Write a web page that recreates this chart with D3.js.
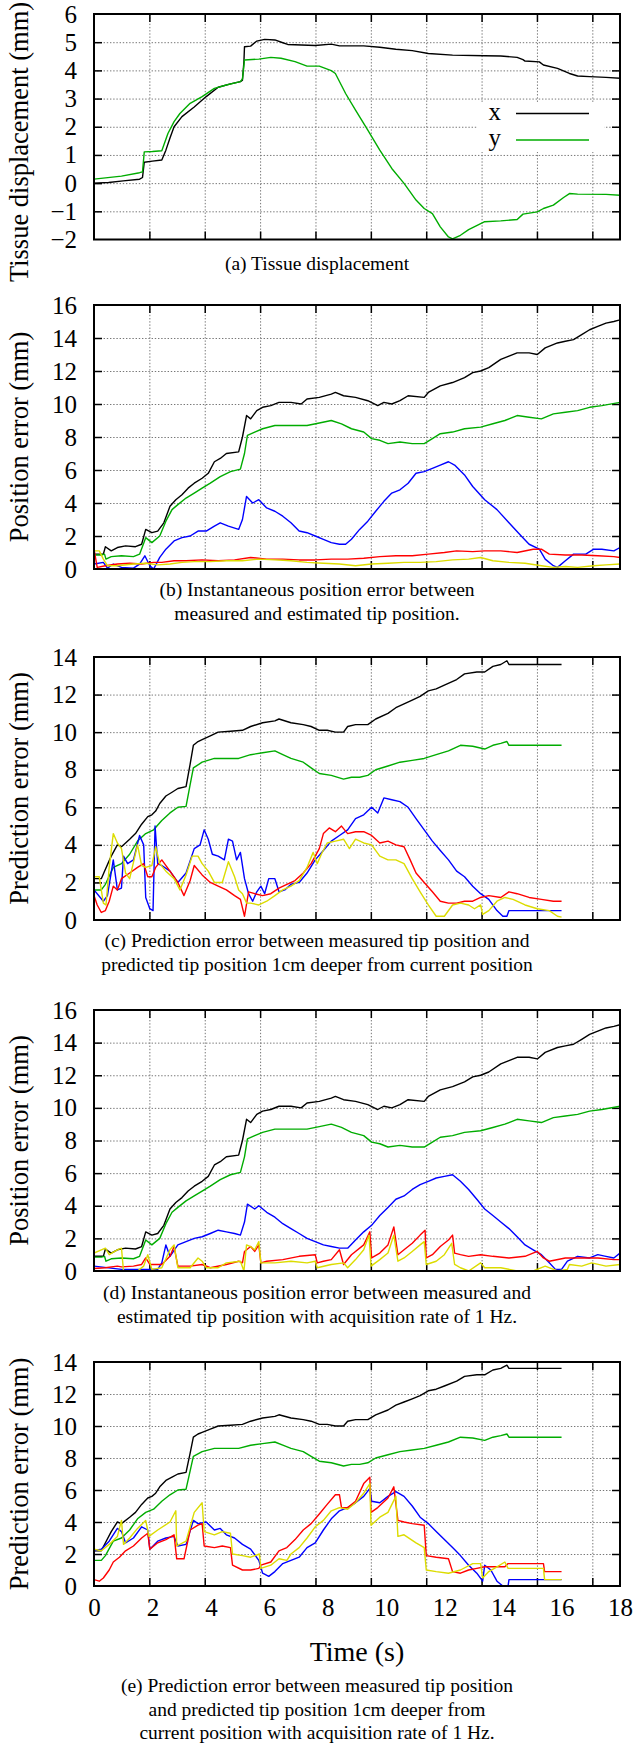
<!DOCTYPE html>
<html lang="en">
<head>
<meta charset="UTF-8">
<title>Tissue displacement and tip position errors</title>
<script src="https://d3js.org/d3.v7.min.js"></script>
<style>
  body, html { margin: 0; padding: 0; background: #fff; }
  svg, svg text { font-family: "Liberation Serif", "Times New Roman", serif; }
  .grid line { stroke: #777; stroke-width: 1; stroke-dasharray: 1.4 1.8; }
  .grid path, .marks path, .labels path { display: none; }
  .marks line { stroke: #000; stroke-width: 1.5; }
  .series { fill: none; stroke-width: 1.4; stroke-linejoin: round; }
</style>
</head>
<body>
<svg id="fig" width="634" height="1746"></svg>
<script>
// ---- data: [time (s), value (mm)] ----
const timeTicks = [0, 2, 4, 6, 8, 10, 12, 14, 16, 18];
const dispTicks = [-2, -1, 0, 1, 2, 3, 4, 5, 6];
const posTicks = [0, 2, 4, 6, 8, 10, 12, 14, 16];
const predTicks = [0, 2, 4, 6, 8, 10, 12, 14];

// (a) tissue displacement
const dispX = [[0,0.0],[0.5,0.02],[1.0,0.08],[1.56,0.14],[1.66,0.2],[1.72,0.74],[2.0,0.78],[2.32,0.82],[2.46,1.17],[2.6,1.6],[2.74,2.0],[3.01,2.36],[3.43,2.7],[3.84,3.07],[4.25,3.4],[4.67,3.52],[5.01,3.6],[5.08,3.65],[5.13,4.3],[5.15,4.84],[5.36,4.86],[5.57,5.04],[5.84,5.1],[6.19,5.08],[6.46,4.98],[6.63,4.92],[7.57,4.88],[8.12,4.93],[8.4,4.87],[9.23,4.87],[9.78,4.82],[10.33,4.75],[10.89,4.7],[11.44,4.6],[12.27,4.54],[13.37,4.52],[13.92,4.51],[14.48,4.46],[14.68,4.38],[14.75,4.33],[15.24,4.3],[15.38,4.19],[15.86,4.07],[16.27,3.89],[16.55,3.8],[16.96,3.78],[17.52,3.75],[18,3.72]];
const dispY = [[0,0.14],[0.94,0.25],[1.56,0.37],[1.66,0.4],[1.72,1.11],[2.0,1.12],[2.32,1.15],[2.53,1.76],[2.74,2.18],[2.94,2.47],[3.29,2.83],[3.7,3.07],[4.12,3.36],[4.53,3.48],[5.01,3.6],[5.08,3.7],[5.15,4.37],[5.64,4.4],[6.05,4.46],[6.4,4.43],[6.88,4.31],[7.29,4.15],[7.71,4.15],[8.12,3.99],[8.26,3.89],[8.61,3.18],[8.95,2.59],[9.37,1.88],[9.78,1.17],[10.19,0.52],[10.61,-0.01],[11.02,-0.6],[11.3,-0.9],[11.58,-1.08],[11.85,-1.55],[12.13,-1.91],[12.27,-1.98],[12.54,-1.85],[12.82,-1.65],[13.37,-1.37],[13.92,-1.34],[14.48,-1.29],[14.68,-1.1],[15.17,-1.02],[15.38,-0.9],[15.72,-0.78],[16.07,-0.51],[16.27,-0.37],[16.55,-0.39],[17.52,-0.4],[18,-0.43]];

// (b) and (d) share the black and green curves
const posBlack = [[0,0.9],[0.32,0.9],[0.39,1.35],[0.59,1.1],[0.8,1.3],[1.08,1.4],[1.42,1.35],[1.63,1.5],[1.77,2.4],[1.98,2.2],[2.18,2.3],[2.39,2.8],[2.6,3.8],[2.8,4.2],[3.01,4.5],[3.22,4.9],[3.43,5.2],[3.7,5.5],[3.91,5.8],[4.12,6.5],[4.32,6.7],[4.53,7.0],[4.95,7.1],[5.08,8.0],[5.22,9.3],[5.36,9.1],[5.57,9.6],[5.77,9.8],[6.05,9.9],[6.33,10.1],[6.74,10.1],[7.09,10.0],[7.29,10.3],[7.71,10.4],[8.12,10.6],[8.26,10.7],[8.54,10.5],[8.95,10.4],[9.37,10.2],[9.71,9.9],[9.92,10.1],[10.19,10.0],[10.47,10.2],[10.75,10.5],[11.3,10.4],[11.44,10.7],[11.85,11.1],[12.27,11.3],[12.68,11.6],[12.96,11.9],[13.23,12.0],[13.51,12.2],[13.92,12.7],[14.2,12.9],[14.48,13.1],[14.89,13.1],[15.17,13.0],[15.44,13.4],[15.86,13.7],[16.13,13.8],[16.41,13.9],[16.69,14.2],[16.96,14.5],[17.24,14.7],[17.52,14.9],[17.79,15.0],[18,15.1]];
const posGreen = [[0,0.85],[0.25,0.85],[0.36,0.9],[0.41,0.6],[0.59,0.75],[0.94,0.8],[1.35,0.75],[1.56,0.9],[1.77,1.9],[1.98,1.6],[2.25,2.0],[2.46,2.9],[2.67,3.6],[2.87,3.9],[3.15,4.3],[3.43,4.6],[3.7,4.9],[3.98,5.2],[4.32,5.6],[4.67,5.9],[5.01,6.05],[5.15,7.0],[5.25,8.1],[5.5,8.3],[5.77,8.5],[6.19,8.7],[6.74,8.7],[7.29,8.7],[7.71,8.85],[8.12,9.0],[8.47,8.8],[8.81,8.5],[9.23,8.3],[9.5,7.9],[9.78,7.8],[10.06,7.6],[10.47,7.7],[10.89,7.6],[11.3,7.6],[11.58,7.9],[11.85,8.2],[12.27,8.3],[12.68,8.5],[13.23,8.6],[13.65,8.8],[14.06,9.0],[14.48,9.3],[14.89,9.2],[15.31,9.1],[15.72,9.4],[16.13,9.5],[16.55,9.6],[16.96,9.8],[17.38,9.9],[18,10.1]];
const posBlueB = [[0,0.3],[0.32,0.4],[0.46,0.05],[0.66,0.3],[0.94,0.1],[1.35,0.05],[1.56,0.3],[1.74,0.8],[1.91,0.2],[2.04,0.0],[2.25,0.7],[2.46,1.2],[2.74,1.7],[3.01,1.9],[3.29,2.0],[3.56,2.3],[3.84,2.3],[4.12,2.6],[4.32,2.8],[4.6,2.6],[4.95,2.4],[5.08,3.0],[5.22,4.4],[5.43,4.0],[5.64,4.2],[5.91,3.7],[6.19,3.5],[6.46,3.2],[6.74,2.8],[7.02,2.3],[7.29,2.2],[7.57,2.0],[7.85,1.8],[8.12,1.6],[8.4,1.5],[8.61,1.5],[8.81,1.8],[9.09,2.4],[9.37,2.9],[9.64,3.5],[9.92,4.1],[10.19,4.6],[10.47,4.8],[10.75,5.2],[11.02,5.8],[11.3,5.9],[11.58,6.1],[11.85,6.3],[12.13,6.5],[12.34,6.3],[12.68,5.7],[12.96,5.0],[13.37,4.2],[13.79,3.6],[14.2,2.8],[14.62,2.0],[14.89,1.5],[15.24,1.2],[15.44,0.6],[15.72,0.2],[15.86,0.1],[16.13,0.5],[16.41,0.9],[16.83,0.9],[17.1,1.2],[17.38,1.2],[17.79,1.1],[18,1.3]];
const posRedB = [[0,1.2],[0.11,0.1],[0.39,0.2],[0.8,0.3],[1.22,0.35],[1.63,0.3],[2.04,0.4],[2.32,0.4],[2.74,0.5],[3.15,0.5],[3.7,0.55],[4.25,0.5],[4.81,0.55],[5.36,0.7],[5.91,0.6],[6.46,0.6],[7.02,0.55],[7.57,0.55],[8.12,0.6],[8.68,0.6],[9.23,0.65],[9.78,0.75],[10.33,0.8],[10.89,0.8],[11.44,0.9],[11.99,1.0],[12.41,1.1],[12.96,1.05],[13.37,1.1],[13.92,1.1],[14.48,1.0],[15.03,1.2],[15.31,1.2],[15.58,0.9],[16.13,0.85],[16.69,0.85],[17.24,0.8],[17.79,0.75],[18,0.7]];
const posYellowB = [[0,1.1],[0.18,1.1],[0.32,0.6],[0.46,0.2],[0.8,0.2],[1.35,0.3],[1.77,0.35],[2.18,0.25],[2.6,0.3],[3.01,0.4],[3.43,0.45],[3.98,0.45],[4.53,0.5],[5.08,0.5],[5.64,0.6],[6.19,0.55],[6.74,0.5],[7.29,0.4],[7.85,0.35],[8.4,0.3],[8.95,0.2],[9.5,0.3],[10.06,0.35],[10.61,0.4],[11.16,0.4],[11.71,0.45],[12.27,0.55],[12.82,0.6],[13.23,0.7],[13.65,0.5],[14.2,0.4],[14.75,0.35],[15.31,0.2],[15.72,0.1],[16.13,0.15],[16.55,0.1],[17.1,0.2],[17.52,0.25],[18,0.3]];

// (c) and (e) share the black and green curves
const predBlack = [[0,2.2],[0.25,2.2],[0.39,2.7],[0.59,3.4],[0.8,4.0],[0.94,3.9],[1.22,4.3],[1.42,4.6],[1.63,5.1],[1.84,5.5],[1.98,5.6],[2.11,5.8],[2.25,6.2],[2.46,6.6],[2.67,6.8],[2.87,7.0],[3.15,7.1],[3.29,8.3],[3.4,9.3],[3.56,9.5],[3.7,9.6],[3.98,9.8],[4.25,10.0],[4.67,10.05],[5.08,10.1],[5.36,10.3],[5.77,10.5],[6.19,10.6],[6.33,10.7],[6.74,10.5],[7.16,10.4],[7.43,10.3],[7.71,10.1],[7.98,10.1],[8.26,10.0],[8.54,10.0],[8.68,10.3],[8.95,10.4],[9.37,10.4],[9.64,10.7],[10.06,11.0],[10.33,11.3],[10.61,11.5],[10.89,11.7],[11.16,11.9],[11.44,12.2],[11.71,12.3],[11.99,12.5],[12.41,12.8],[12.68,13.1],[13.1,13.2],[13.37,13.2],[13.65,13.5],[13.92,13.6],[14.13,13.8],[14.2,13.6],[16,13.6]];
const predGreen = [[0,1.6],[0.25,1.6],[0.39,1.9],[0.66,2.8],[0.94,3.0],[1.22,3.5],[1.49,4.2],[1.77,4.6],[2.04,4.8],[2.32,5.3],[2.6,5.7],[2.87,6.0],[3.15,6.05],[3.29,7.2],[3.4,8.1],[3.7,8.4],[4.12,8.6],[4.53,8.6],[4.95,8.6],[5.36,8.8],[5.77,8.9],[6.19,9.0],[6.46,8.8],[6.74,8.6],[7.16,8.4],[7.43,8.1],[7.71,7.8],[8.12,7.7],[8.54,7.5],[8.81,7.6],[9.09,7.6],[9.37,7.7],[9.64,8.0],[10.06,8.2],[10.47,8.4],[10.89,8.5],[11.3,8.6],[11.71,8.8],[12.13,9.0],[12.54,9.3],[12.96,9.25],[13.37,9.1],[13.65,9.3],[13.92,9.4],[14.13,9.5],[14.2,9.3],[16,9.3]];
const predBlueC = [[0,1.6],[0.32,1.0],[0.46,1.3],[0.66,3.2],[0.8,1.6],[0.94,1.7],[1.01,3.4],[1.15,3.0],[1.35,3.2],[1.56,4.5],[1.7,4.0],[1.77,1.2],[1.91,0.6],[2.02,0.5],[2.09,5.0],[2.18,3.0],[2.32,2.9],[2.6,2.6],[2.87,2.0],[3.15,2.5],[3.43,3.8],[3.63,4.0],[3.77,4.8],[3.91,4.3],[4.05,3.5],[4.25,3.4],[4.46,3.2],[4.6,4.3],[4.74,4.2],[4.88,3.2],[5.01,3.6],[5.15,2.2],[5.29,1.4],[5.43,1.0],[5.57,1.5],[5.71,1.8],[5.84,1.4],[5.98,2.2],[6.19,2.2],[6.33,1.5],[6.53,1.6],[6.74,1.9],[7.02,2.0],[7.29,2.5],[7.57,3.2],[7.85,3.7],[8.12,4.2],[8.4,4.5],[8.68,4.8],[8.95,5.4],[9.23,5.6],[9.5,6.0],[9.71,5.7],[9.92,6.5],[10.19,6.4],[10.47,6.3],[10.75,6.0],[11.02,5.4],[11.3,4.8],[11.58,4.2],[11.85,3.7],[12.13,3.2],[12.41,2.6],[12.68,2.3],[12.96,1.8],[13.23,1.4],[13.51,1.1],[13.79,0.5],[13.99,0.2],[14.13,0.2],[14.2,0.5],[16,0.5]];
const predRedC = [[0,1.3],[0.11,0.8],[0.25,0.4],[0.39,0.5],[0.52,1.0],[0.66,1.8],[0.8,1.6],[0.94,2.2],[1.22,2.5],[1.49,2.8],[1.7,3.0],[1.84,2.3],[1.98,2.3],[2.11,2.8],[2.32,3.2],[2.6,2.6],[2.87,2.0],[3.08,1.3],[3.29,2.1],[3.43,2.9],[3.7,2.4],[3.98,2.0],[4.25,1.8],[4.53,1.6],[4.81,1.3],[5.01,1.1],[5.15,0.2],[5.29,1.5],[5.5,1.4],[5.77,1.3],[6.05,1.4],[6.33,1.7],[6.6,1.9],[6.88,2.1],[7.16,2.5],[7.43,3.0],[7.71,3.8],[7.85,4.6],[8.05,4.9],[8.26,4.7],[8.47,5.0],[8.68,4.6],[8.95,4.7],[9.23,4.7],[9.5,4.5],[9.78,4.1],[10.06,4.2],[10.33,4.0],[10.61,3.9],[10.82,3.2],[11.02,2.5],[11.3,2.0],[11.58,1.5],[11.85,1.0],[12.13,0.9],[12.41,0.9],[12.68,1.0],[12.96,1.0],[13.23,1.2],[13.51,1.3],[13.92,1.2],[14.2,1.5],[14.48,1.4],[14.89,1.2],[15.31,1.1],[15.72,1.0],[16,1.0]];
const predYellowC = [[0,2.3],[0.18,2.3],[0.32,0.9],[0.41,0.8],[0.52,2.8],[0.66,4.6],[0.8,4.1],[0.94,3.8],[1.08,2.5],[1.22,2.2],[1.49,4.0],[1.63,2.9],[1.77,2.8],[1.98,2.9],[2.11,3.9],[2.25,3.0],[2.46,2.6],[2.74,2.2],[2.94,1.6],[3.15,2.4],[3.36,3.4],[3.56,3.4],[3.7,3.0],[3.91,2.6],[4.12,2.0],[4.39,2.0],[4.6,3.1],[4.81,2.3],[4.95,1.6],[5.08,1.4],[5.22,0.9],[5.36,0.9],[5.64,0.8],[5.91,1.0],[6.19,1.3],[6.46,1.6],[6.74,1.8],[7.02,2.1],[7.29,2.8],[7.5,3.6],[7.64,3.0],[7.78,3.5],[7.98,4.1],[8.26,4.2],[8.54,4.3],[8.74,3.8],[8.95,4.3],[9.23,4.1],[9.5,4.0],[9.78,3.4],[10.06,3.2],[10.33,3.2],[10.61,3.0],[10.89,2.2],[11.16,1.5],[11.44,0.8],[11.71,0.2],[11.99,0.2],[12.27,0.8],[12.54,0.9],[12.82,0.8],[13.02,0.6],[13.23,0.8],[13.3,0.3],[13.51,0.5],[13.79,1.0],[14.06,1.2],[14.34,1.1],[14.75,0.8],[15.17,0.6],[15.58,0.5],[15.86,0.2],[16,0.15]];

// (d) 1 Hz acquisition, instantaneous error
const posBlueD = [[0,0.3],[0.94,0.1],[1.49,0.1],[1.91,0.1],[2.18,0.1],[2.32,0.5],[2.46,1.6],[2.6,0.9],[2.87,1.6],[3.15,1.8],[3.43,2.0],[3.7,2.1],[3.98,2.3],[4.25,2.5],[4.53,2.4],[4.81,2.3],[5.01,2.2],[5.15,3.0],[5.25,4.1],[5.5,3.8],[5.64,4.0],[5.91,3.6],[6.19,3.3],[6.46,2.9],[6.74,2.6],[7.02,2.3],[7.29,2.0],[7.57,1.8],[7.85,1.6],[8.12,1.5],[8.4,1.4],[8.68,1.4],[8.95,1.9],[9.23,2.4],[9.5,2.8],[9.78,3.4],[10.06,3.9],[10.33,4.4],[10.61,4.6],[10.89,5.0],[11.16,5.3],[11.44,5.5],[11.71,5.7],[11.99,5.8],[12.27,5.9],[12.54,5.5],[12.82,5.0],[13.1,4.4],[13.37,3.8],[13.65,3.4],[13.92,3.0],[14.2,2.6],[14.48,2.1],[14.75,1.6],[15.03,1.3],[15.31,1.0],[15.58,0.5],[15.79,0.1],[16.0,0.1],[16.2,0.6],[16.55,0.9],[16.96,0.8],[17.24,1.0],[17.52,0.9],[17.79,0.8],[18,1.1]];
const posRedD = [[0,0.15],[0.39,0.2],[0.8,0.3],[0.94,0.25],[1.35,0.3],[1.63,0.4],[1.77,0.8],[1.91,0.4],[2.32,0.4],[2.6,0.9],[2.74,1.5],[2.87,0.3],[3.29,0.3],[3.7,0.4],[3.98,0.2],[4.53,0.4],[4.95,0.6],[5.08,0.5],[5.15,1.2],[5.36,1.5],[5.5,1.2],[5.64,1.6],[5.71,0.5],[5.91,0.6],[6.46,0.7],[7.02,0.9],[7.57,1.0],[7.64,0.5],[7.85,0.6],[8.12,0.7],[8.4,1.3],[8.54,0.4],[8.81,1.0],[9.23,1.6],[9.44,2.4],[9.5,0.8],[9.78,1.1],[10.06,1.6],[10.26,2.7],[10.4,1.0],[10.61,1.3],[10.89,1.7],[11.16,2.2],[11.33,2.5],[11.37,0.8],[11.58,1.0],[11.85,1.5],[12.13,1.9],[12.27,2.2],[12.34,1.1],[12.54,1.0],[12.82,0.9],[13.23,1.0],[13.65,0.9],[14.2,0.8],[14.75,0.9],[15.17,1.2],[15.38,0.8],[15.58,0.6],[16.13,0.8],[16.69,0.8],[17.24,0.8],[17.79,0.7],[18,0.7]];
const posYellowD = [[0,1.1],[0.39,1.4],[0.52,1.0],[0.8,1.3],[0.94,1.4],[1.01,0.0],[1.49,0.0],[1.7,0.3],[1.84,1.0],[1.98,0.1],[2.32,0.2],[2.6,1.3],[2.74,1.6],[2.87,0.2],[3.29,0.2],[3.56,0.8],[3.7,0.6],[3.84,0.2],[4.25,0.2],[4.53,0.5],[5.01,0.6],[5.13,0.0],[5.22,1.6],[5.36,1.5],[5.5,1.3],[5.64,1.8],[5.71,0.5],[6.19,0.5],[6.74,0.6],[7.29,0.5],[7.57,0.6],[7.64,0.2],[8.12,0.4],[8.54,0.5],[8.68,0.2],[8.95,0.7],[9.23,1.3],[9.41,2.2],[9.48,0.3],[9.78,0.7],[10.06,1.1],[10.26,2.2],[10.4,0.6],[10.61,0.8],[10.89,1.2],[11.16,1.6],[11.3,1.8],[11.37,0.4],[11.71,0.6],[11.99,1.0],[12.24,1.7],[12.34,0.4],[12.54,0.2],[12.82,0.0],[13.23,0.5],[13.37,0.2],[13.92,0.2],[14.48,0.0],[15.03,0.0],[15.44,0.3],[15.86,0.0],[16.2,0.1],[16.27,0.4],[16.69,0.3],[17.03,0.5],[17.52,0.3],[18,0.4]];

// (e) 1 Hz acquisition, prediction error
const predBlueE = [[0,2.2],[0.25,2.3],[0.52,2.8],[0.8,3.6],[0.94,3.4],[1.08,2.7],[1.35,3.0],[1.63,3.7],[1.84,3.5],[1.91,2.3],[2.18,2.8],[2.46,3.0],[2.74,3.1],[2.87,2.5],[3.15,2.6],[3.4,4.1],[3.56,3.9],[3.84,4.0],[4.12,3.5],[4.32,3.6],[4.53,3.2],[4.81,3.0],[5.08,2.6],[5.36,2.3],[5.64,1.6],[5.77,0.8],[5.98,0.6],[6.19,0.9],[6.46,1.4],[6.74,1.6],[7.02,1.8],[7.29,2.4],[7.57,2.7],[7.85,3.5],[8.12,4.2],[8.4,4.7],[8.68,4.9],[8.95,5.2],[9.23,5.6],[9.44,6.1],[9.5,5.3],[9.78,5.2],[10.06,5.6],[10.33,5.9],[10.61,5.6],[10.89,5.0],[11.16,4.3],[11.44,3.9],[11.71,3.4],[11.99,2.9],[12.27,2.4],[12.54,1.9],[12.82,1.3],[13.1,0.8],[13.3,0.3],[13.37,1.3],[13.58,1.0],[13.79,0.3],[13.99,0.0],[14.17,0.0],[14.2,0.4],[15.31,0.4],[16,0.4]];
const predRedE = [[0,0.4],[0.18,0.3],[0.32,0.5],[0.52,1.0],[0.66,1.5],[0.87,1.8],[1.08,2.2],[1.35,2.5],[1.63,3.0],[1.84,3.3],[1.91,2.3],[2.18,2.7],[2.46,2.9],[2.74,3.2],[2.83,1.7],[3.08,1.7],[3.29,3.5],[3.56,3.8],[3.7,3.9],[3.77,2.5],[4.12,2.4],[4.39,2.5],[4.67,2.4],[4.74,1.3],[5.08,1.0],[5.36,1.0],[5.64,1.1],[5.71,1.3],[6.05,1.5],[6.33,2.2],[6.6,2.4],[6.88,2.9],[7.16,3.5],[7.43,3.9],[7.71,4.5],[7.98,5.1],[8.26,5.7],[8.4,5.7],[8.47,4.9],[8.68,4.9],[8.95,5.3],[9.23,6.4],[9.44,6.8],[9.48,4.6],[9.71,4.9],[10.06,5.5],[10.26,6.2],[10.4,4.1],[10.61,4.0],[10.89,3.9],[11.3,3.8],[11.37,1.9],[11.71,1.8],[12.13,1.7],[12.27,0.9],[12.54,0.8],[12.82,1.0],[13.1,1.1],[13.37,1.2],[13.79,1.2],[14.06,1.2],[14.17,1.4],[15.38,1.4],[15.42,0.9],[16,0.9]];
const predYellowE = [[0,2.3],[0.25,2.2],[0.52,2.6],[0.8,3.1],[0.94,4.1],[1.01,2.6],[1.22,3.0],[1.49,3.6],[1.77,4.1],[1.88,3.1],[2.18,3.5],[2.6,4.0],[2.8,4.7],[2.83,2.5],[3.15,2.8],[3.43,4.6],[3.7,5.2],[3.77,3.4],[4.12,3.2],[4.39,3.4],[4.67,3.3],[4.74,2.0],[5.08,1.9],[5.36,1.8],[5.66,2.0],[5.71,1.1],[6.05,1.3],[6.33,1.7],[6.6,1.6],[6.74,2.0],[7.02,2.4],[7.29,3.0],[7.57,3.7],[7.85,4.1],[8.12,4.7],[8.4,4.9],[8.68,4.8],[8.95,5.2],[9.23,5.8],[9.44,6.4],[9.48,3.8],[9.78,4.3],[10.06,4.6],[10.33,5.6],[10.4,3.1],[10.61,3.2],[11.02,2.7],[11.3,2.4],[11.37,1.0],[11.71,0.9],[12.13,0.8],[12.54,1.0],[12.96,1.4],[13.23,1.4],[13.3,0.5],[13.51,0.9],[13.79,1.2],[14.06,1.5],[14.17,1.1],[15.38,1.1],[15.42,0.4],[16,0.4]];

const legendNames = ['x', 'y'];

const captionA = ['(a) Tissue displacement'];
const captionB = ['(b) Instantaneous position error between', 'measured and estimated tip position.'];
const captionC = ['(c) Prediction error between measured tip position and', 'predicted tip position 1cm deeper from current position'];
const captionD = ['(d) Instantaneous position error between measured and', 'estimated tip position with acquisition rate of 1 Hz.'];
const captionE = ['(e) Prediction error between measured tip position', 'and predicted tip position 1cm deeper from', 'current position with acquisition rate of 1 Hz.'];

// ---- layout ----
const FONT = '"Liberation Serif", "Times New Roman", serif';
const C = { black: '#000000', green: '#00ac00', blue: '#0000ff', red: '#ff0000', yellow: '#dcdc00' };
const frameL = 94, frameR = 620;
const x = d3.scaleLinear().domain([0, 18]).range([frameL, frameR]);
// the original grid is spaced at 1/9.5 of the frame width, not at the labelled seconds
const gridTimes = d3.range(1, 10).map(k => k * 18 / 9.5);

const panels = [
  { top: 14, bottom: 239.5, domain: [-2, 6], ticks: dispTicks, title: 'Tissue displacement (mm)', titleY: 142,
    caption: captionA, capY: 270, series: [[dispX, C.black], [dispY, C.green]], legend: true },
  { top: 305, bottom: 569, domain: [0, 16], ticks: posTicks, title: 'Position error (mm)',
    caption: captionB, capY: 596, series: [[posBlack, C.black], [posGreen, C.green], [posBlueB, C.blue], [posRedB, C.red], [posYellowB, C.yellow]] },
  { top: 657, bottom: 920, domain: [0, 14], ticks: predTicks, title: 'Prediction error (mm)',
    caption: captionC, capY: 947, series: [[predBlack, C.black], [predGreen, C.green], [predBlueC, C.blue], [predRedC, C.red], [predYellowC, C.yellow]] },
  { top: 1010, bottom: 1271, domain: [0, 16], ticks: posTicks, title: 'Position error (mm)',
    caption: captionD, capY: 1299, series: [[posBlack, C.black], [posGreen, C.green], [posBlueD, C.blue], [posRedD, C.red], [posYellowD, C.yellow]] },
  { top: 1362, bottom: 1586, domain: [0, 14], ticks: predTicks, title: 'Prediction error (mm)',
    caption: captionE, capY: 1692, series: [[predBlack, C.black], [predGreen, C.green], [predBlueE, C.blue], [predRedE, C.red], [predYellowE, C.yellow]], timeAxis: true }
];

const svg = d3.select('#fig').attr('font-family', FONT);
svg.append('rect').attr('width', 634).attr('height', 1746).attr('fill', '#fff');

function cleanAxis(g, size) {
  g.attr('font-family', FONT).attr('font-size', size);
  g.selectAll('text').attr('font-family', FONT).attr('fill', '#000');
  g.selectAll('.domain').remove();
}

panels.forEach((p, i) => {
  const y = d3.scaleLinear().domain(p.domain).range([p.bottom, p.top]);
  const w = frameR - frameL, h = p.bottom - p.top;
  const inner = p.ticks.slice(1, -1);
  const g = svg.append('g');

  // dotted grid
  g.append('g').attr('class', 'grid').attr('transform', `translate(0,${p.bottom})`)
    .call(d3.axisBottom(x).tickValues(gridTimes).tickSize(-h).tickFormat(''));
  g.append('g').attr('class', 'grid').attr('transform', `translate(${frameL},0)`)
    .call(d3.axisLeft(y).tickValues(inner).tickSize(-w).tickFormat(''));

  // inward tick marks on all four sides
  g.append('g').attr('class', 'marks').attr('transform', `translate(0,${p.bottom})`)
    .call(d3.axisBottom(x).tickValues(gridTimes).tickSize(-8).tickFormat(''));
  g.append('g').attr('class', 'marks').attr('transform', `translate(0,${p.top})`)
    .call(d3.axisTop(x).tickValues(gridTimes).tickSize(-8).tickFormat(''));
  g.append('g').attr('class', 'marks').attr('transform', `translate(${frameL},0)`)
    .call(d3.axisLeft(y).tickValues(inner).tickSize(-8).tickFormat(''));
  g.append('g').attr('class', 'marks').attr('transform', `translate(${frameR},0)`)
    .call(d3.axisRight(y).tickValues(inner).tickSize(-8).tickFormat(''));

  // legend box sits above the grid, below the data
  if (p.legend) {
    const lg = g.append('g');
    lg.append('rect').attr('x', 477).attr('y', 103).attr('width', 127).attr('height', 49).attr('fill', '#fff');
    legendNames.forEach((name, j) => {
      const ly = 113.5 + j * 26.5;
      lg.append('text').attr('x', 501).attr('y', ly + 6).attr('text-anchor', 'end')
        .attr('font-size', 25).text(name);
      lg.append('line').attr('x1', 516).attr('x2', 589).attr('y1', ly).attr('y2', ly)
        .attr('stroke', p.series[j][1]).attr('stroke-width', 1.4);
    });
  }

  // data
  const clipId = 'clip' + i;
  g.append('clipPath').attr('id', clipId).append('rect')
    .attr('x', frameL).attr('y', p.top).attr('width', w).attr('height', h);
  const line = d3.line().x(d => x(d[0])).y(d => y(d[1]));
  const data = g.append('g').attr('clip-path', `url(#${clipId})`);
  p.series.forEach(([values, color]) => {
    data.append('path').attr('class', 'series').attr('d', line(values)).attr('stroke', color);
  });

  // frame
  g.append('rect').attr('x', frameL).attr('y', p.top).attr('width', w).attr('height', h)
    .attr('fill', 'none').attr('stroke', '#000').attr('stroke-width', 2);

  // y tick labels
  g.append('g').attr('class', 'labels').attr('transform', `translate(${frameL},0)`)
    .call(d3.axisLeft(y).tickValues(p.ticks).tickSize(0).tickPadding(17).tickFormat(d3.format('d')))
    .call(a => cleanAxis(a, 25));

  // y title
  const ty = p.titleY !== undefined ? p.titleY : (p.top + p.bottom) / 2;
  g.append('text').attr('transform', `translate(28,${ty}) rotate(-90)`)
    .attr('text-anchor', 'middle').attr('font-size', 26.5).text(p.title);

  // time axis only under the last panel
  if (p.timeAxis) {
    g.append('g').attr('class', 'labels').attr('transform', `translate(0,${p.bottom})`)
      .call(d3.axisBottom(x).tickValues(timeTicks).tickSize(0).tickPadding(12).tickFormat(d3.format('d')))
      .call(a => cleanAxis(a, 25));
    g.append('text').attr('x', (frameL + frameR) / 2).attr('y', 1661)
      .attr('text-anchor', 'middle').attr('font-size', 28).text('Time (s)');
  }

  // caption
  p.caption.forEach((txt, j) => {
    g.append('text').attr('x', 317).attr('y', p.capY + j * 23.5)
      .attr('text-anchor', 'middle').attr('font-size', 19.5).text(txt);
  });
});
</script>
</body>
</html>
